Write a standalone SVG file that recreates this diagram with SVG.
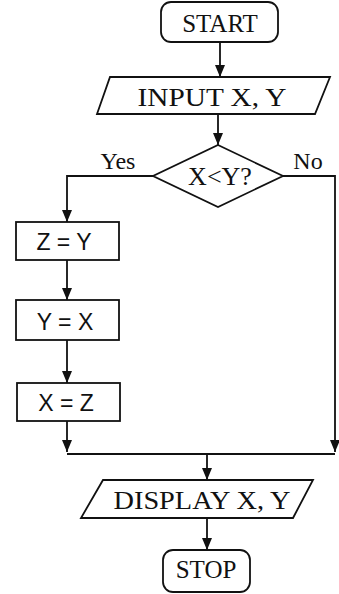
<svg xmlns="http://www.w3.org/2000/svg" width="339" height="594" viewBox="0 0 339 594">
<style>
.s{fill:#fff;stroke:#111;stroke-width:1.8}
.t{font-family:"Liberation Serif","Times New Roman",serif;fill:#111;text-anchor:middle}
.a{font-family:"Liberation Sans",Arial,sans-serif;fill:#111;text-anchor:middle;font-size:23px}
.c{fill:none;stroke:#111;stroke-width:1.8}
</style>
<defs>
<marker id="ah" markerUnits="userSpaceOnUse" markerWidth="10" markerHeight="12" viewBox="0 0 10 12" refX="5" refY="12" orient="auto-start-reverse">
<path d="M0,0 L10,0 L5,12 Z" fill="#111"/>
</marker>
<marker id="ad" markerUnits="userSpaceOnUse" markerWidth="12" markerHeight="10" viewBox="0 0 12 10" refX="12" refY="5" orient="auto">
<path d="M0,0 L12,5 L0,10 Z" fill="#111"/>
</marker>
</defs>
<g id="connectors">
<path class="c" d="M220,42 V77" marker-end="url(#ad)"/>
<path class="c" d="M218,114 V145" marker-end="url(#ad)"/>
<path class="c" d="M153,176 H67 V222" marker-end="url(#ad)"/>
<path class="c" d="M67,260 V300" marker-end="url(#ad)"/>
<path class="c" d="M67,340 V383" marker-end="url(#ad)"/>
<path class="c" d="M67,421 V452" marker-end="url(#ad)"/>
<path class="c" d="M283,176 H335 V452" marker-end="url(#ad)"/>
<path class="c" d="M67,454 H335"/>
<path class="c" d="M207,454 V480" marker-end="url(#ad)"/>
<path class="c" d="M207,518 V550" marker-end="url(#ad)"/>
<text class="t" x="118" y="169" font-size="24">Yes</text>
<text class="t" x="308" y="169" font-size="24">No</text>
</g>
<g id="start">
<rect class="s" x="161" y="2" width="117" height="40" rx="10"/>
<text class="t" x="220" y="32" font-size="25">START</text>
</g>
<g id="input">
<polygon class="s" points="110,77 330,77 315,114 97,114"/>
<text class="t" x="212" y="106" font-size="26" textLength="149" lengthAdjust="spacingAndGlyphs">INPUT  X,  Y</text>
</g>
<g id="decision">
<polygon class="s" points="218,145 283,176 218,207 153,176"/>
<text class="t" x="220" y="185" font-size="26">X&lt;Y?</text>
</g>
<g id="zy">
<rect class="s" x="16" y="222" width="103" height="38"/>
<text class="a" x="64" y="250">Z = Y</text>
</g>
<g id="yx">
<rect class="s" x="16" y="300" width="103" height="40"/>
<text class="a" x="65" y="330">Y = X</text>
</g>
<g id="xz">
<rect class="s" x="17" y="383" width="103" height="38"/>
<text class="a" x="66" y="411">X = Z</text>
</g>
<g id="display">
<polygon class="s" points="103,480 313,480 293,518 81,518"/>
<text class="t" x="202" y="509" font-size="26" textLength="177" lengthAdjust="spacingAndGlyphs">DISPLAY  X,  Y</text>
</g>
<g id="stop">
<rect class="s" x="163" y="550" width="87" height="42" rx="10"/>
<text class="t" x="206" y="578" font-size="25">STOP</text>
</g>
</svg>
